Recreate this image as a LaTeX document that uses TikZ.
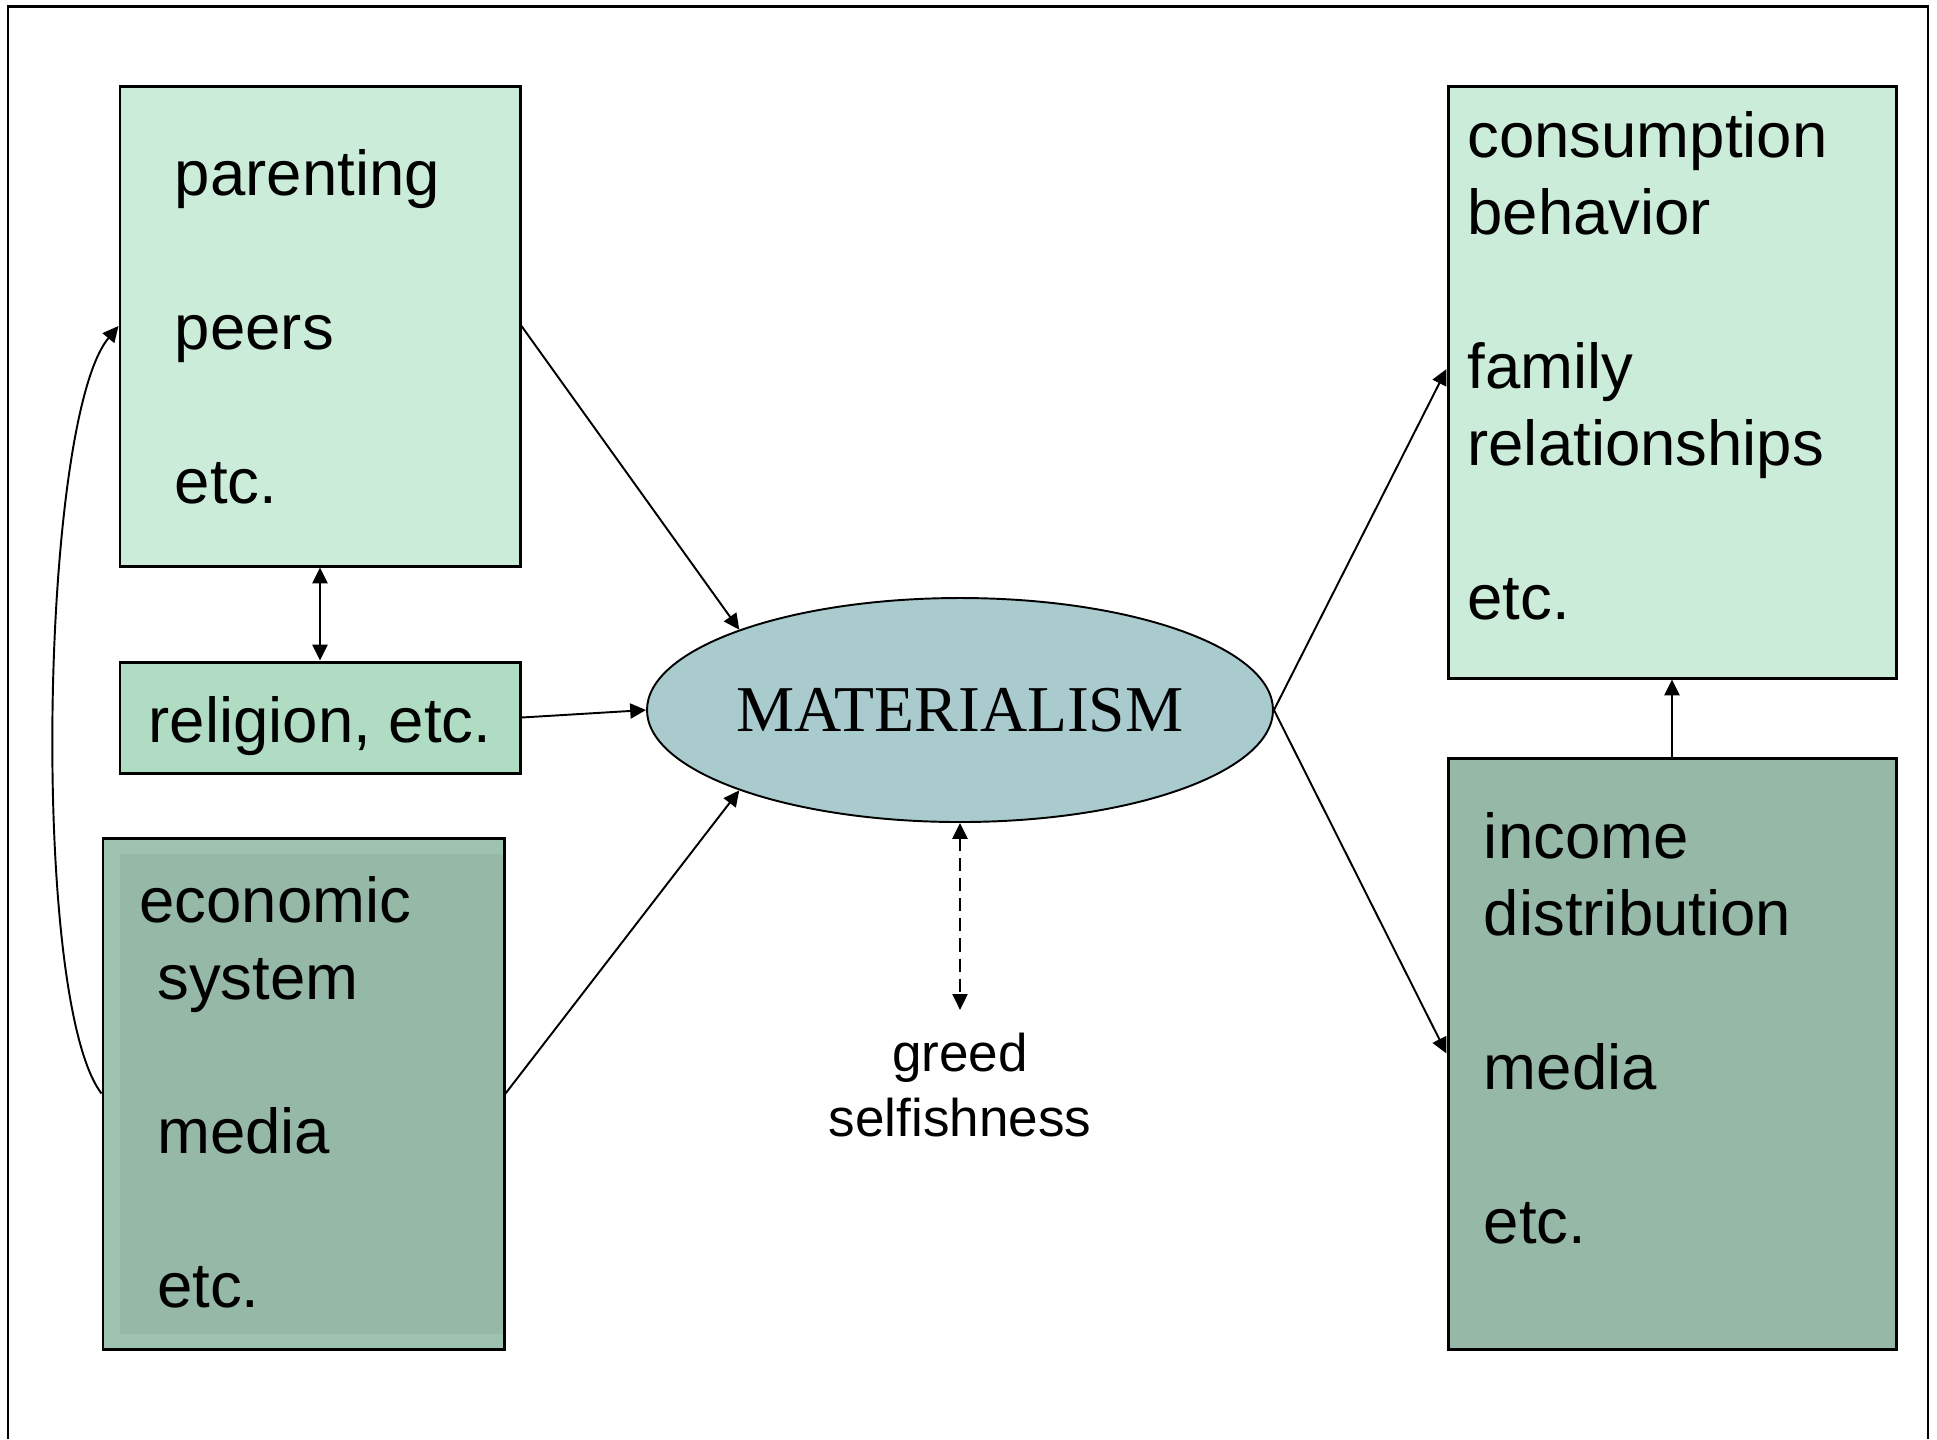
\documentclass[tikz,border=0pt]{standalone}
\usepackage{fontspec}
\setmainfont{Liberation Serif}
\setsansfont{Liberation Sans}
\usetikzlibrary{arrows.meta,shapes.geometric}
\definecolor{paleGreen}{HTML}{CCECDA}
\definecolor{midGreen}{HTML}{B0DCC4}
\definecolor{greyGreen}{HTML}{96B8A6}
\definecolor{bandGreen}{HTML}{9EC2B0}
\definecolor{matBlue}{HTML}{A9CBCE}
\begin{document}
\begin{tikzpicture}[>={Triangle[length=4.5pt,width=4.3pt]}, line width=0.55pt,
    box/.style={draw, line width=0.85pt, inner sep=0pt},
    txt/.style={font=\sffamily\fontsize{18.07}{21.9}\selectfont, align=left, anchor=base west, inner sep=0pt}]
    \useasboundingbox (0,0) rectangle (19.37,-14.39);
    \draw[line width=0.6pt] (0.08,-14.39) -- (0.08,-0.065) -- (19.28,-0.065) -- (19.28,-14.39);

    \node[box, fill=paleGreen, minimum width=4cm, minimum height=4.8cm] (parent) at (3.2,-3.26) {};
    \node[txt] (parentTxt) at (1.74,-5.03) {parenting\\[21.9pt]peers\\[21.9pt]etc.};

    \node[box, fill=midGreen, minimum width=4cm, minimum height=1.11cm, text height=0.62cm, text depth=0.13cm,
      font=\sffamily\fontsize{18.07}{21.9}\selectfont] (relig) at (3.2,-7.175) {religion, etc.};

    \node[box, fill=bandGreen, minimum width=4.01cm, minimum height=5.11cm,
      path picture={\fill[greyGreen] ([xshift=0.17cm,yshift=-0.16cm]path picture bounding box.north west)
        rectangle ([yshift=0.15cm]path picture bounding box.south east);}] (econ) at (3.035,-10.935) {};
    \node[txt] (econTxt) at (1.385,-13.07) {economic\\\hspace*{0.28em}system\\[21.9pt]\hspace*{0.28em}media\\[21.9pt]\hspace*{0.28em}etc.};

    \node[ellipse, draw, fill=matBlue, minimum width=6.26cm, minimum height=2.24cm, inner sep=0pt, inner xsep=-0.4cm,
      font=\fontsize{18.6}{22}\selectfont] (mat) at (9.6,-7.1) {MATERIALISM};
    \node[font=\sffamily\fontsize{15.1}{18.5}\selectfont, align=center, anchor=base] (greed) at (9.6,-11.36) {greed\\selfishness};

    \node[box, fill=paleGreen, minimum width=4.48cm, minimum height=5.92cm] (cons) at (16.72,-3.82) {};
    \node[txt] (consTxt) at (14.665,-6.19) {consumption\\behavior\\[21.9pt]family\\relationships\\[21.9pt]etc.};

    \node[box, fill=greyGreen, minimum width=4.48cm, minimum height=5.91cm] (inc) at (16.72,-10.535) {};
    \node[txt] (incTxt) at (14.83,-12.43) {income\\distribution\\[21.9pt]media\\[21.9pt]etc.};

    \draw[->] (parent.east) -- (mat.160);
    \draw[->] (relig.east) -- (mat.west);
    \draw[->] (econ.east) -- (mat.200);
    \draw[<->] (parent.south) -- (relig.north);
    \draw[->] (econ.west) .. controls (0.3,-10.0) and (0.4,-4.2) .. (parent.west);
    \draw[->] (mat.east) -- ([yshift=0.13cm]cons.west);
    \draw[->] (mat.east) -- (inc.west);
    \draw[->] (inc.north) -- (cons.south);
    \draw[<->, dash pattern=on 3.7pt off 2pt] (mat.south) -- ([yshift=0.1cm]greed.north);
  \end{tikzpicture}
\end{document}
